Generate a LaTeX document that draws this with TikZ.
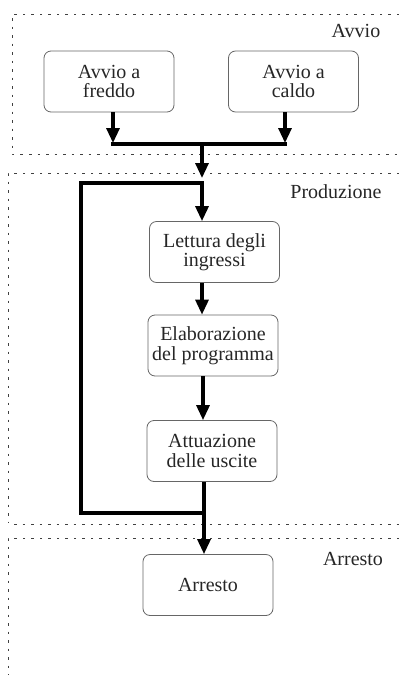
\documentclass[tikz,border=0pt]{standalone}
\usepackage{fontspec}
\setmainfont{Liberation Serif}
\usetikzlibrary{arrows.meta,calc}
\begin{document}
\begin{tikzpicture}[x=1pt,y=-1pt,
  box/.style={draw=black!60,line width=0.8pt,rounded corners=7pt,minimum width=130pt,minimum height=61pt,align=center,inner sep=2pt,font=\fontsize{20}{19.5}\selectfont,text=black!85},
  lbl/.style={font=\fontsize{20}{19.5}\selectfont,text=black!85},
  sep/.style={line width=0.9pt,dash pattern=on 2.5pt off 6pt,black!75},
  wire/.style={line width=3.2pt},
  flow/.style={line width=3.2pt,-{Triangle[length=15pt,width=13pt]}}
]
\useasboundingbox (0,0) rectangle (399,675);
% section separators
\draw[sep] (399,14) -- (12,14) -- (12,154) -- (399,154);
\draw[sep] (399,173) -- (8,173) -- (8,522);
\draw[sep] (14,524) -- (399,524);
\draw[sep] (399,538) -- (8,538) -- (8,675);
% labels
\node[lbl] (lavvio) at (356,31) {Avvio};
\node[lbl] (lprod) at (336,192) {Produzione};
\node[lbl] (larr) at (353,559) {Arresto};
% boxes
\node[box] (fr) at (109,81.5) {Avvio a\\freddo};
\node[box] (ca) at (293.5,81.5) {Avvio a\\caldo};
\node[box] (le) at (214.5,252) {Lettura degli\\ingressi};
\node[box] (el) at (213,345.5) {Elaborazione\\del programma};
\node[box] (at) at (212,451) {Attuazione\\delle uscite};
\node[box] (ar) at (208,585) {Arresto};
% merge bar
\coordinate (bl) at (111,144);
\coordinate (br) at (287,144);
\coordinate (bm) at (202,144);
\coordinate (pin) at (202,178);
\coordinate (ltop) at (202,183);
\coordinate (lleft) at (81,183);
\coordinate (lbot) at (81,513);
\coordinate (lret) at (204,513);
\draw[flow] (fr.south -| 113,0) -- (113,143);
\draw[flow] (ca.south -| 285,0) -- (285,143);
\draw[wire] (bl) -- (br);
\draw[flow] (bm) -- (pin);
% production loop
\draw[flow,line join=miter] (lret) -- (lbot) -- (lleft) -- (ltop) -- (le.north -| ltop);
\draw[flow] (le.south -| 202,0) -- (el.north -| 202,0);
\draw[flow] (el.south -| 203,0) -- (at.north -| 203,0);
\draw[flow] (at.south -| 204,0) -- (ar.north -| 204,0);
\end{tikzpicture}
\end{document}
